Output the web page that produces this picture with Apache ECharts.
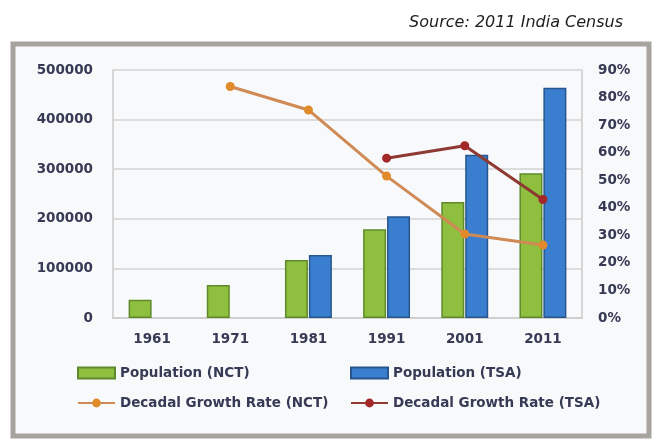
<!DOCTYPE html>
<html>
<head>
<meta charset="utf-8">
<title>Delhi population and decadal growth</title>
<script src="https://cdn.jsdelivr.net/npm/echarts@6/dist/echarts.min.js"></script>
<style>
  html, body { margin: 0; padding: 0; background: #ffffff; }
  #chart { width: 656px; height: 442px; }
</style>
</head>
<body>
<div id="chart"></div>
<script>
// Census years
const years = ['1961', '1971', '1981', '1991', '2001', '2011'];

// Population, National Capital Territory and the wider urban agglomeration
const populationNCT = [37000, 66500, 117000, 179000, 234000, 292000];
const populationTSA = [null, null, 127000, 205000, 329000, 464000];

// Decadal growth rate, percent
const growthNCT = [null, 84, 75.5, 51.5, 30.5, 26.5];
const growthTSA = [null, null, null, 58, 62.5, 43];

// Axis ranges
const popMax = 500000, popStep = 100000;
const rateMax = 90, rateStep = 10;

const labelFont = {
  fontFamily: 'DejaVu Sans',
  fontWeight: 'bold',
  fontSize: 13.5,
  color: '#363a55'
};

const chart = echarts.init(document.getElementById('chart'), null, { renderer: 'canvas' });

function legendAt(name, left, top, icon) {
  const opt = {
    data: [name],
    left: left,
    top: top,
    itemWidth: 37,
    itemHeight: 11,
    itemGap: 0,
    padding: 0,
    textStyle: Object.assign({}, labelFont)
  };
  if (icon) opt.icon = icon;
  return opt;
}

chart.setOption({
  animation: false,
  backgroundColor: '#ffffff',
  graphic: [
    {
      type: 'rect',
      z: -10,
      shape: { x: 13, y: 44, width: 636, height: 392 },
      style: { fill: '#f8f9fa', stroke: '#a7a49f', lineWidth: 5 }
    }
  ],
  title: {
    text: 'Source: 2011 India Census',
    right: 28,
    top: 10,
    textStyle: {
      fontFamily: 'DejaVu Sans',
      fontStyle: 'italic',
      fontWeight: 'normal',
      fontSize: 16,
      color: '#1e1e1e'
    }
  },
  legend: [
    legendAt('Population (NCT)', 77, 366, 'rect'),
    legendAt('Population (TSA)', 350, 366, 'rect'),
    legendAt('Decadal Growth Rate (NCT)', 77, 396),
    legendAt('Decadal Growth Rate (TSA)', 350, 396)
  ],
  grid: { left: 113, right: 74, top: 70, bottom: 124 },
  xAxis: {
    type: 'category',
    data: years,
    axisLine: { show: true, lineStyle: { color: '#cfcfcf', width: 2 } },
    axisTick: { show: false },
    axisLabel: Object.assign({ margin: 14 }, labelFont)
  },
  yAxis: [
    {
      type: 'value',
      min: 0,
      max: popMax,
      interval: popStep,
      axisLine: { show: true, lineStyle: { color: '#d6d6d6', width: 2 } },
      axisTick: { show: false },
      axisLabel: Object.assign({ margin: 20, formatter: v => String(v) }, labelFont),
      splitLine: { show: true, lineStyle: { color: '#dcdcdc', width: 2 } }
    },
    {
      type: 'value',
      min: 0,
      max: rateMax,
      interval: rateStep,
      position: 'right',
      axisLine: { show: true, lineStyle: { color: '#d6d6d6', width: 2 } },
      axisTick: { show: false },
      axisLabel: Object.assign({ margin: 16, formatter: '{value}%' }, labelFont),
      splitLine: { show: false }
    }
  ],
  series: [
    {
      name: 'Population (NCT)',
      type: 'bar',
      data: populationNCT,
      barWidth: 23,
      barGap: '4%',
      itemStyle: { color: '#8fbf3e', borderColor: '#5f8a2c', borderWidth: 1.5 }
    },
    {
      name: 'Population (TSA)',
      type: 'bar',
      data: populationTSA,
      barWidth: 23,
      barGap: '4%',
      itemStyle: { color: '#3a7fcf', borderColor: '#27568e', borderWidth: 1.5 }
    },
    {
      name: 'Decadal Growth Rate (NCT)',
      type: 'line',
      yAxisIndex: 1,
      data: growthNCT,
      symbol: 'circle',
      symbolSize: 9,
      lineStyle: { color: '#cf8a55', width: 3 },
      itemStyle: { color: '#e08a2c' },
      z: 5
    },
    {
      name: 'Decadal Growth Rate (TSA)',
      type: 'line',
      yAxisIndex: 1,
      data: growthTSA,
      symbol: 'circle',
      symbolSize: 9,
      lineStyle: { color: '#8e3a32', width: 3 },
      itemStyle: { color: '#a3282a' },
      z: 6
    }
  ]
});
</script>
</body>
</html>
